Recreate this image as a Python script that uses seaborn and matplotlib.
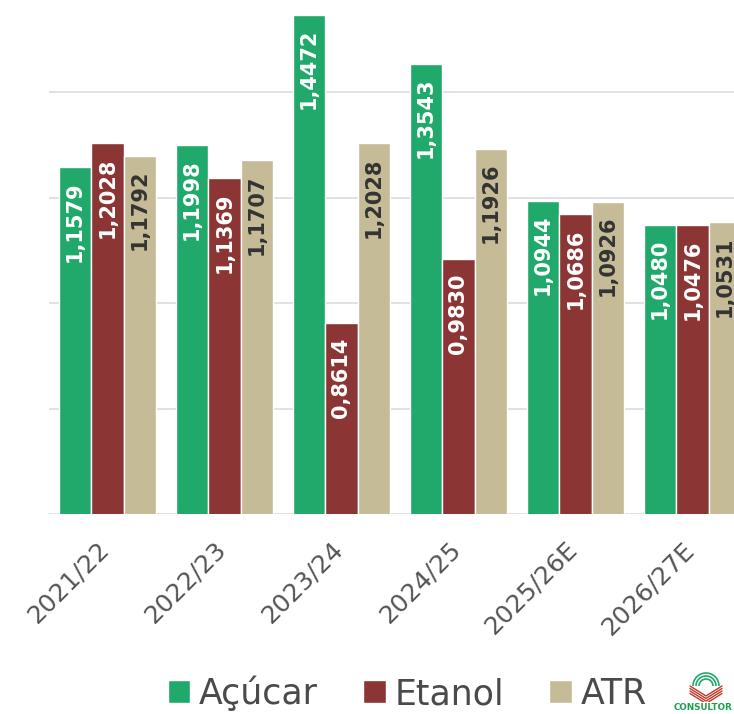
import pandas as pd
import seaborn as sns
import matplotlib.pyplot as plt
import matplotlib.transforms as mtransforms
from matplotlib.patches import Arc

# safras e fatores de conversão
safras = ['2021/22', '2022/23', '2023/24', '2024/25', '2025/26E', '2026/27E']
acucar = [1.1579, 1.1998, 1.4472, 1.3543, 1.0944, 1.0480]
etanol = [1.2028, 1.1369, 0.8614, 0.9830, 1.0686, 1.0476]
atr = [1.1792, 1.1707, 1.2028, 1.1926, 1.0926, 1.0531]
series = ['Açúcar', 'Etanol', 'ATR']
cores = ['#20a96b', '#8b3535', '#c5bb96']
cores_texto = ['white', 'white', '#333333']

df = pd.DataFrame({
    'safra': safras * 3,
    'valor': acucar + etanol + atr,
    'serie': [s for s in series for _ in safras],
})

sns.set_style('white')
fig = plt.figure(figsize=(7.34, 7.14), dpi=100)
ax = fig.add_axes([49 / 734, 1 - 514 / 714, 1 - 49 / 734, 514 / 714])

sns.barplot(data=df, x='safra', y='valor', hue='serie', order=safras, hue_order=series,
            palette=cores, saturation=1, width=0.83, edgecolor='white', linewidth=1, ax=ax)

ax.set_ylim(0.5, 1.475)
ax.set_xlim(-0.5, 5.355)
ax.set_yticks([0.5, 0.7, 0.9, 1.1, 1.3])
ax.set_yticklabels([])
ax.yaxis.grid(True, color='#dcdcdc', linewidth=1.2)
ax.set_axisbelow(True)
ax.tick_params(axis='both', length=0)
ax.tick_params(axis='x', pad=23)
for s in ax.spines.values():
    s.set_visible(False)
ax.set_xlabel('')
ax.set_ylabel('')
desloc = mtransforms.ScaledTranslation(-2 / 100, 0, fig.dpi_scale_trans)
for lbl in ax.get_xticklabels():
    lbl.set_rotation(45)
    lbl.set_ha('right')
    lbl.set_va('center')
    lbl.set_rotation_mode('anchor')
    lbl.set_fontsize(18)
    lbl.set_color('#555555')
    lbl.set_transform(lbl.get_transform() + desloc)

# rótulos de valor dentro das barras
for cont, cor in zip(ax.containers, cores_texto):
    for p in cont:
        h = p.get_height()
        ax.annotate(f'{h:.4f}'.replace('.', ','), (p.get_x() + p.get_width() / 2, h),
                    xytext=(0, -10), textcoords='offset points', rotation=90,
                    ha='center', va='top', fontsize=15, fontweight='bold', color=cor,
                    annotation_clip=False)

handles, labels = ax.get_legend_handles_labels()
ax.legend_.remove()
leg = fig.legend(handles, labels, loc='center', bbox_to_anchor=(0.555, 0.029), ncol=3,
                 frameon=False, fontsize=25, handlelength=0.65, handleheight=0.65,
                 handletextpad=0.25, columnspacing=1.3)
for t in leg.get_texts():
    t.set_color('#4a4a4a')

# logo
fig.text(703 / 734, 1 - 707 / 714, 'CONSULTOR', color='#1e9e4e', fontsize=6.3,
         fontweight='bold', ha='center', va='center')
lax = fig.add_axes([688 / 734, 1 - 702 / 714, 36 / 734, 32 / 714])
lax.set_xlim(0, 36)
lax.set_ylim(0, 32)
lax.axis('off')
for r in [7, 10, 13]:
    lax.add_patch(Arc((18, 16), 2 * r, 2 * r, theta1=0, theta2=180, color='#22a86b', lw=1.2))
for k in range(4):
    off = k * 2.5
    lax.plot([2, 18, 34], [16 - off, 4 - off + 2, 16 - off], color='#c0392b', lw=1)

fig.savefig('out.png', dpi=100)
